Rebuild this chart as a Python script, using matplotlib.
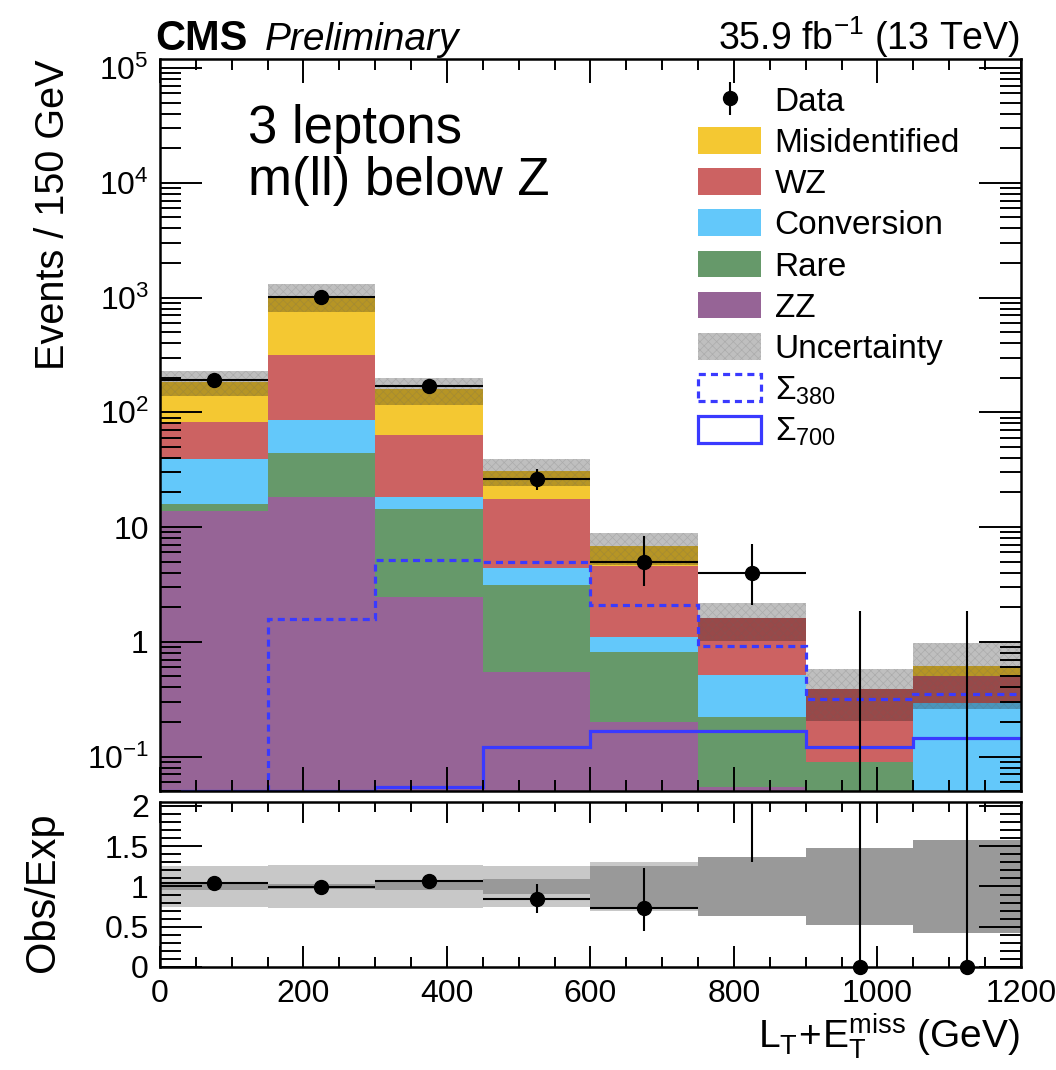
import numpy as np
import matplotlib
matplotlib.use('Agg')
import matplotlib.pyplot as plt
from matplotlib.patches import Patch
from matplotlib.ticker import FixedLocator, FixedFormatter, MultipleLocator, LogLocator, NullFormatter

plt.rcParams['font.family'] = ['Liberation Sans', 'DejaVu Sans']
plt.rcParams['mathtext.fontset'] = 'custom'
plt.rcParams['mathtext.rm'] = 'Liberation Sans'
plt.rcParams['mathtext.it'] = 'Liberation Sans:italic'
plt.rcParams['mathtext.bf'] = 'Liberation Sans:bold'
plt.rcParams['hatch.linewidth'] = 0.5

# LT + MET bins (GeV)
edges = np.arange(0, 1201, 150)

# expected backgrounds per bin (stacked bottom -> top)
zz = [13.7, 18.2, 2.45, 0.55, 0.20, 0.054, 0.0, 0.0]
rare = [2.1, 25.8, 11.85, 2.55, 0.62, 0.166, 0.089, 0.0]
conv = [23.2, 41.0, 3.9, 1.3, 0.29, 0.29, 0.0, 0.29]
wz = [44.0, 231.0, 45.8, 13.1, 3.49, 1.09, 0.30, 0.21]
misid = [100.0, 714.0, 94.0, 13.5, 2.2, 0.0, 0.0, 0.12]

# observed events and Poisson (Garwood) errors
data = [190, 1020, 168, 26, 5, 4, 0, 0]
data_lo = [13.3, 31.5, 12.5, 5.08, 1.92, 1.91, 0.0, 0.0]
data_hi = [14.8, 32.5, 13.5, 6.14, 3.38, 3.16, 1.84, 1.84]

# relative uncertainties on the expectation
syst_rel = [0.25, 0.27, 0.27, 0.26, 0.31, 0.30, 0.35, 0.40]
stat_rel = [0.05, 0.03, 0.05, 0.09, 0.25, 0.37, 0.48, 0.58]

# signal hypotheses
sig380 = [0.0, 1.57, 5.2, 5.0, 2.1, 0.91, 0.32, 0.35]
sig700 = [0.05, 0.05, 0.054, 0.122, 0.166, 0.166, 0.12, 0.146]

labels = ['ZZ', 'Rare', 'Conversion', 'WZ', 'Misidentified']
colors = ['#966496', '#66996a', '#63c8fa', '#cc6262', '#f4c832']

centers = 0.5 * (edges[:-1] + edges[1:])
comps = np.array([zz, rare, conv, wz, misid])
total = comps.sum(axis=0)
data = np.array(data, dtype=float)
data_lo = np.array(data_lo)
data_hi = np.array(data_hi)
unc_rel = np.maximum(syst_rel, stat_rel)

fig = plt.figure(figsize=(10.56, 10.70), dpi=100)
ax = fig.add_axes([0.1515, 0.2607, 0.8153, 0.6842])
rax = fig.add_axes([0.1515, 0.0963, 0.8153, 0.1542])

# stacked histogram
bottom = np.full(len(total), 1e-4)
handles = {}
for vals, lab, col in zip(comps, labels, colors):
    b = ax.bar(edges[:-1], vals, width=150, bottom=bottom, align='edge',
               color=col, linewidth=0, label=lab)
    handles[lab] = b
    bottom = bottom + vals

# uncertainty band
unc_style = dict(facecolor=(0, 0, 0, 0.25), edgecolor=(0.4, 0.4, 0.4, 0.22),
                 hatch='xxxx', linewidth=0)
lo = total * (1 - unc_rel)
hi = total * (1 + unc_rel)
ax.fill_between(edges, np.r_[lo, lo[-1]], np.r_[hi, hi[-1]], step='post', **unc_style)

# signals
sig_col = '#3a3aff'
ax.stairs(sig380, edges, baseline=None, color=sig_col, linewidth=2.3, linestyle=(0, (2.2, 1.6)))
ax.stairs(sig700, edges, baseline=None, color=sig_col, linewidth=2.3)

# data
pos = data > 0
dat = ax.errorbar(centers[pos], data[pos], yerr=[data_lo[pos], data_hi[pos]], fmt='o',
                  color='black', markersize=10, elinewidth=1.5, capsize=0)
ax.hlines(data[pos], edges[:-1][pos], edges[1:][pos], color='black', linewidth=1.5)
ax.vlines(centers[~pos], 1e-3, data_hi[~pos], color='black', linewidth=1.5)

ax.set_yscale('log')
ax.set_xlim(0, 1200)
ax.set_ylim(0.05, 1.2e5)

# ratio panel
r_syst = np.array(syst_rel)
r_stat = np.array(stat_rel)
rax.fill_between(edges, np.r_[1 - r_syst, 1 - r_syst[-1]], np.r_[1 + r_syst, 1 + r_syst[-1]],
                 step='post', color='#c8c8c8', linewidth=0)
rax.fill_between(edges, np.r_[1 - r_stat, 1 - r_stat[-1]], np.r_[1 + r_stat, 1 + r_stat[-1]],
                 step='post', color='#999999', linewidth=0)
ratio = data / total
r_lo = data_lo / total
r_hi = data_hi / total
rax.vlines(centers, ratio - r_lo, ratio + r_hi, color='black', linewidth=1.5)
rax.hlines(ratio[pos], edges[:-1][pos], edges[1:][pos], color='black', linewidth=1.5)
inr = ratio <= 2
rax.plot(centers[inr], ratio[inr], 'o', color='black', markersize=10, clip_on=False, zorder=5)
rax.set_xlim(0, 1200)
rax.set_ylim(0, 2.05)

# ROOT-like ticks on all four sides
for a in (ax, rax):
    a.tick_params(which='both', direction='in', top=True, right=True, width=1.4, labelsize=23)
    a.xaxis.set_major_locator(MultipleLocator(200))
    a.xaxis.set_minor_locator(MultipleLocator(50))
    for s in a.spines.values():
        s.set_linewidth(1.8)

ax.tick_params(axis='x', which='major', length=17, labelbottom=False)
ax.tick_params(axis='x', which='minor', length=8)
ax.tick_params(axis='y', which='major', length=30, pad=8)
ax.tick_params(axis='y', which='minor', length=15)
ytv = [0.1, 1, 10, 1e2, 1e3, 1e4, 1e5]
ytl = [r'$\mathregular{10^{-1}}$', '1', '10', r'$\mathregular{10^{2}}$',
       r'$\mathregular{10^{3}}$', r'$\mathregular{10^{4}}$', r'$\mathregular{10^{5}}$']
ax.yaxis.set_major_locator(FixedLocator(ytv))
ax.yaxis.set_major_formatter(FixedFormatter(ytl))
ax.yaxis.set_minor_locator(LogLocator(base=10, subs=np.arange(2, 10), numticks=20))
ax.yaxis.set_minor_formatter(NullFormatter())

rax.tick_params(axis='x', which='major', length=15, pad=9)
rax.tick_params(axis='x', which='minor', length=7)
rax.tick_params(axis='y', which='major', length=30, pad=8)
rax.tick_params(axis='y', which='minor', length=15)
rax.yaxis.set_major_locator(FixedLocator([0, 0.5, 1, 1.5, 2]))
rax.yaxis.set_major_formatter(FixedFormatter(['0', '0.5', '1', '1.5', '2']))
rax.yaxis.set_minor_locator(MultipleLocator(0.1))

# labels
fig.text(53 / 1056, 1 - 60 / 1070, 'Events / 150 GeV', rotation=90, ha='center', va='top', size=28.5)
fig.text(43 / 1056, 1 - 892 / 1070, 'Obs/Exp', rotation=90, ha='center', va='center', size=30)
fig.text(1020 / 1056, 1 - 1048 / 1070, r'$\mathregular{L_T\!+\!E_T^{miss}}$ (GeV)',
         ha='right', va='baseline', size=28)
fig.text(155 / 1056, 1 - 50 / 1070, 'CMS', ha='left', va='baseline', size=30, weight='bold')
fig.text(265 / 1056, 1 - 50 / 1070, 'Preliminary', ha='left', va='baseline', size=28, style='italic')
fig.text(1020 / 1056, 1 - 50 / 1070, r'35.9 fb$\mathregular{^{-1}}$ (13 TeV)',
         ha='right', va='baseline', size=27)
fig.text(248 / 1056, 1 - 104 / 1070, '3 leptons\nm(ll) below Z', ha='left', va='top',
         size=38, linespacing=1.05)

# legend
leg_handles = [dat, handles['Misidentified'], handles['WZ'], handles['Conversion'],
               handles['Rare'], handles['ZZ'], Patch(**unc_style),
               Patch(facecolor='none', edgecolor=sig_col, linewidth=2.3, linestyle=(0, (2.2, 1.6))),
               Patch(facecolor='none', edgecolor=sig_col, linewidth=2.3)]
leg_labels = ['Data', 'Misidentified', 'WZ', 'Conversion', 'Rare', 'ZZ', 'Uncertainty',
              r'$\mathregular{\Sigma_{380}}$', r'$\mathregular{\Sigma_{700}}$']
fig.legend(leg_handles, leg_labels, loc='upper left', bbox_to_anchor=(698 / 1056, 1 - 86 / 1070),
           frameon=False, fontsize=24, borderpad=0, borderaxespad=0, labelspacing=0.28,
           handlelength=1.9, handleheight=0.85, handletextpad=0.4)

fig.savefig('out.png', dpi=100)
